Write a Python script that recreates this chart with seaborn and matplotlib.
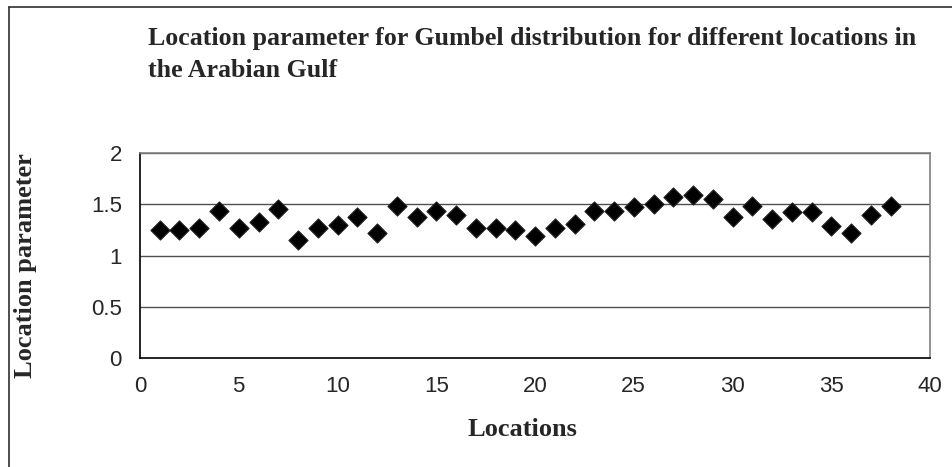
import numpy as np
import pandas as pd
import matplotlib
matplotlib.use('Agg')
import matplotlib.pyplot as plt
import seaborn as sns

# Values
locations = list(range(1, 39))
location_param = [1.25, 1.25, 1.27, 1.43, 1.27, 1.33, 1.45, 1.15, 1.27, 1.30,
                  1.38, 1.22, 1.48, 1.38, 1.43, 1.40, 1.27, 1.27, 1.25, 1.19,
                  1.27, 1.31, 1.43, 1.43, 1.47, 1.50, 1.57, 1.59, 1.55, 1.38,
                  1.48, 1.36, 1.42, 1.42, 1.29, 1.22, 1.40, 1.48]
x_ticks = [0, 5, 10, 15, 20, 25, 30, 35, 40]
y_ticks = [0, 0.5, 1, 1.5, 2]

df = pd.DataFrame({'Locations': locations, 'Location parameter': location_param})

sns.set_style('white')
plt.rcParams['font.family'] = ['Liberation Sans', 'DejaVu Sans']

fig = plt.figure(figsize=(9.53, 4.67), dpi=100)
ax = fig.add_axes([140 / 953, 1 - 358 / 467, 790 / 953, 205 / 467])

# horizontal gridlines like excel
for yv in y_ticks[1:]:
    ax.axhline(yv, color='#505050', lw=1.0, zorder=1)

sns.scatterplot(data=df, x='Locations', y='Location parameter', marker='D',
                color='black', edgecolor='#202020', s=95, ax=ax, zorder=3)

ax.set_xlim(0, 40)
ax.set_ylim(0, 2)
ax.set_xticks(x_ticks)
ax.set_yticks(y_ticks)
ax.set_yticklabels(['0', '0.5', '1', '1.5', '2'])
ax.tick_params(axis='both', direction='out', length=7, width=1, color='black',
               labelsize=16, pad=6)

for side in ['left', 'bottom']:
    ax.spines[side].set_color('black')
    ax.spines[side].set_linewidth(1.2)
for side in ['top', 'right']:
    ax.spines[side].set_color('#808080')
    ax.spines[side].set_linewidth(1.2)

serif = ['Liberation Serif', 'DejaVu Serif']
ax.set_xlabel('Locations', family=serif, fontweight='bold', fontsize=19)
ax.set_ylabel('Location parameter', family=serif, fontweight='bold', fontsize=19)
ax.xaxis.set_label_coords((522 - 140) / 790, (358 - 418) / 205)
ax.yaxis.set_label_coords((37 - 140) / 790, (358 - 266) / 205)
ax.xaxis.label.set_va('top')
ax.yaxis.label.set_va('bottom')

fig.text(148 / 953, 1 - 27 / 467,
         'Location parameter for Gumbel distribution for different locations in\nthe Arabian Gulf',
         family=serif, fontweight='bold', fontsize=18.6, ha='left', va='top',
         linespacing=1.5)

# chart area border (only top and left visible in the crop)
fig.add_artist(plt.Line2D([9 / 953, 9 / 953], [0, 1 - 7 / 467], transform=fig.transFigure,
                          color='#303030', lw=1.2))
fig.add_artist(plt.Line2D([9 / 953, 1], [1 - 7 / 467, 1 - 7 / 467], transform=fig.transFigure,
                          color='#303030', lw=1.2))

fig.savefig('out.png', dpi=100)
